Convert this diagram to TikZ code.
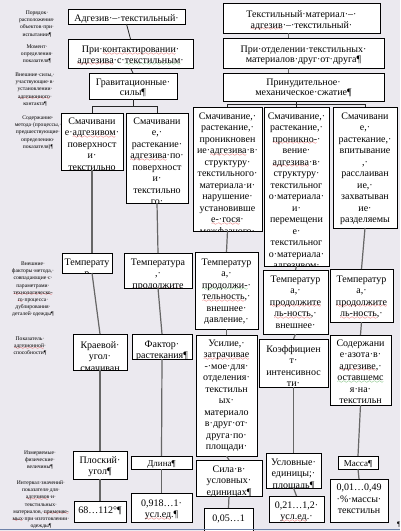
\documentclass[tikz,border=0pt]{standalone}
\usepackage{fontspec}
\setmainfont{Liberation Serif}
\usetikzlibrary{fit}
\definecolor{paper}{RGB}{235,233,239}
\definecolor{spell}{RGB}{225,25,25}
\definecolor{gram}{RGB}{40,150,40}
\definecolor{edge}{RGB}{110,130,170}
\font\wavefont=lasy6
\font\wavesm=lasy5
% wavy underline: colour, wave font, drop, word
\newcommand\wave[4]{\leavevmode\setbox0\hbox{#4}\rlap{\lower#3\hbox to\wd0{\color{#1}\xleaders\hbox{#2\char58}\hfil}}\box0}
\newcommand\rw[1]{\wave{spell}{\wavefont}{2.6pt}{#1}}
\newcommand\gw[1]{\wave{gram}{\wavefont}{2.6pt}{#1}}
\newcommand\rs[1]{\wave{spell}{\wavesm}{1.4pt}{#1}}
\newcommand\bxfont{\fontsize{10}{11.5}\selectfont}
\newcommand\topfont{\fontsize{10}{10.5}\selectfont}
\newcommand\smfont{\fontsize{9}{10}\selectfont}
\newcommand\lblfont{\fontsize{5.6}{7.2}\selectfont}
% box: name, x1, y1, x2, y2, first baseline, lines
\newcommand\txbox[8][\bxfont]{%
  \node[bx,fit={(#3,#4) (#5,#6)}] (#2) {};
  \begin{scope}
    \clip (#2.south west) rectangle (#2.north east);
    \node[txt,font=#1] at (#2.center|-0,#7) {#8};
  \end{scope}
  \draw[bxline] (#2.south west) rectangle (#2.north east);}
\begin{document}
\begin{tikzpicture}[x=1pt,y=-1pt,
    bx/.style={fill=white,inner sep=0pt,outer sep=0pt},
    bxline/.style={draw=black,line width=.8pt},
    txt/.style={anchor=base,inner sep=0pt,text width=200pt,align=center},
    lbl/.style={anchor=base,inner sep=0pt,text width=90pt,align=center,font=\lblfont},
    link/.style={draw=black!60,line width=1.2pt},
    tie/.style={draw=black!85,line width=.8pt}]
  \fill[paper] (0,0) rectangle (400,531);
  \useasboundingbox (0,0) rectangle (400,531);
  % left column of captions
  \node[lbl] (lab1) at (37,14.5) {Порядок·\\расположения·\\объектов·при·\\испытании¶};
  \node[lbl] (lab2) at (37,48.5) {Момент·\\определения·\\показателя¶};
  \node[lbl] (lab3) at (35,76.5) {Внешние·силы,·\\участвующие·в·\\установлении·\\\rs{адгезионного}·\\контакта¶};
  \node[lbl] (lab4) at (38,119.5) {Содержание·\\метода·(процессы,·\\предшествующие·\\определению·\\показателя)¶};
  \node[lbl] (lab5) at (33,265.5) {Внешние·\\факторы·метода,·\\совпадающие·с·\\параметрами·\\\rs{технологическо-}\\\rs{го}·процесса·\\дублирования·\\деталей·одежды¶};
  \node[lbl] (lab6) at (30,340.5) {Показатель·\\\rs{адгезионной}·\\способности¶};
  \node[lbl] (lab7) at (40,454.5) {Измеряемые·\\физические·\\величины¶};
  \node[lbl] (lab8) at (41,484.5) {Интервал·значений·\\показателя·для·\\\rs{адгезивов}·и·\\текстильных·\\материалов,·\rs{применяе-}\\\rs{мых}·при·изготовлении·\\одежды¶};
  % adhesive - textile
  \txbox[\topfont]{A}{68}{9}{185}{24}{21.5}{Адгезив·–·текстильный·}
  \txbox[\topfont]{B}{68}{39}{193}{68}{52.5}{При·\rw{контактировании}·\\\rw{адгезива}·с·\gw{текстильным}·}
  \txbox[\topfont]{C}{89}{73}{177}{99}{85}{Гравитационные·\\силы¶}
  \txbox{D1}{61}{113}{123}{170}{124}{Смачивани\\е·\rw{адгезивом}·\\поверхност\\и·\\текстильно}
  \txbox{D2}{126}{113}{188}{203}{124}{Смачивани\\е,·\\растекание·\\\rw{адгезива}·по·\\поверхност\\и·\\текстильно\\го·}
  \txbox{T1}{62}{253}{112}{273}{265}{Температу\\р}
  \txbox{T2}{124}{253}{192}{288}{265}{Температура\\,·\\\rw{продолжите}}
  \txbox{K1}{73}{334}{127}{370}{348}{Краевой·\\угол·\\смачиван}
  \txbox{K2}{132}{334}{192}{359}{347}{Фактор·\\растекания¶}
  \txbox{P1}{73}{451}{127}{479}{463}{Плоский·\\угол¶}
  \txbox[\smfont]{P2}{131}{456}{192}{469}{466}{Длина¶}
  \txbox{Q1}{74}{501}{126}{522}{513}{68…112°¶}
  \txbox{Q2}{131}{493}{192}{522}{506}{0,918…1·\\\rw{усл.ед}.¶}
  % textile - adhesive - textile
  \txbox[\topfont]{F}{223}{3}{380}{33}{17.5}{Текстильный·материал·–·\\\rw{адгезив}·–·текстильный·}
  \txbox[\topfont]{G}{223}{38}{384}{68}{52}{При·отделении·текстильных·\\материалов·друг·от·друга¶}
  \txbox[\topfont]{H}{223}{73}{384}{101}{85}{Принудительное·\\механическое·сжатие¶}
  \txbox{E1}{193}{107}{262}{231}{119}{Смачивание,·\\растекание,·\\проникновен\\ие·\rw{адгезива}·в·\\структуру·\\текстильного·\\материала·и·\\нарушение·\\установивше\\\rw{е-·гося}·\\межфазного·}
  \txbox{E2}{264}{107}{329}{266}{119}{Смачивание,·\\растекание,·\\\rw{проникно-}·\\вение·\\\rw{адгезива}·в·\\структуру·\\текстильног\\о·материала·\\и·\\перемещени\\е·\\текстильног\\о·материала·\\\rw{адгезивом}·}
  \txbox{E3}{333}{107}{397}{228}{119}{Смачивани\\е,·\\растекание,·\\впитывание\\,·\\расслаиван\\ие,·\\захватыван\\ие·\\разделяемы}
  \txbox{T3}{195}{252}{258}{329}{265}{Температур\\а,·\\\gw{продолжи-}·\\\rw{тельность},·\\внешнее·\\давление,·}
  \txbox{T4}{263}{270}{328}{334}{282}{Температур\\а,·\\\rw{продолжите}\\\rw{ль-ность},·\\внешнее·}
  \txbox{T5}{330}{269}{393}{322}{282}{Температур\\а,·\\\rw{продолжите}\\\rw{ль-ность},·}
  \txbox{U1}{196}{335}{257}{456}{346}{Усилие,·\\\rw{затрачивае}\\\gw{-}·мое·для·\\отделения·\\текстильн\\ых·\\материало\\в·друг·от·\\друга·по·\\площади·}
  \txbox{U2}{259}{339}{328}{387}{352}{Коэффициен\\т·\\интенсивнос\\ти·}
  \txbox{U3}{330}{335}{391}{405}{346}{Содержани\\е·азота·в·\\\rw{адгезиве},·\\\gw{оставшемс}\\\gw{я}·на·\\текстильн}
  \txbox{V1}{196}{460}{262}{496}{472}{Сила·в·\\условных·\\единицах¶}
  \txbox{V2}{266}{453}{321}{488}{465}{Условные·\\единицы;·\\площадь¶}
  \txbox[\smfont]{V3}{338}{456}{378}{469}{466.5}{Масса¶}
  \txbox{W1}{204}{508}{253}{532}{521}{0,05…1}
  \txbox{W2}{269}{496}{324}{522}{508}{0,21…1,2·\\\rw{усл.ед}.·}
  \txbox{W3}{330}{479}{388}{522}{490.5}{0,01…0,49\\·\%·массы·\\текстильн}
  % connectors
  \draw[tie] (A.south)--(B.north);
  \draw[tie] (B.south)--(C.north);
  \draw[tie] (C.south)--++(0,7);
  \draw[tie] (D1.north)--++(0,-7)-|(D2.north);
  \draw[link] (D1.south)--(D1.south|-T1.north);
  \draw[link] (D1.south|-T1.south)--(K1.north);
  \draw[link] ([xshift=-13pt]F.south)--([xshift=-13pt]F.south|-G.north);
  \draw[link] ([xshift=-13pt]F.south|-G.south)--([xshift=-13pt]F.south|-H.north);
  \draw[tie] (E2.north|-H.south)--(E2.north);
  \draw[tie] (E1.north)--++(0,-3)-|(E3.north);
  \foreach \a/\b in {D2/T2,T2/K2,K1/P1,P1/Q1,K2/P2,P2/Q2,
      E1/T3,T3/U1,U1/V1,V1/W1,E2/T4,T4/U2,U2/V2,V2/W2,E3/T5,T5/U3,U3/V3,V3/W3}
    \draw[link] (\a.south)--(\b.north);
  \draw[edge,line width=1.2pt] (0,529.5)--(400,529.5);
  \node[anchor=base west,inner sep=0pt,font=\fontsize{7}{7}\selectfont] (endmark) at (397,526) {¶};
\end{tikzpicture}
\end{document}
